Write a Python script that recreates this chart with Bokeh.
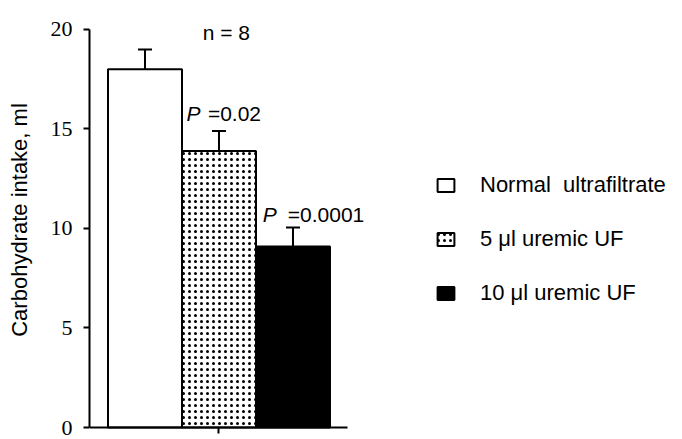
from bokeh.plotting import figure
from bokeh.models import (ColumnDataSource, Whisker, TeeHead, Legend, LegendItem,
                          Label, FixedTicker, Range1d)
from bokeh.embed import file_html
from bokeh.resources import INLINE

# ---- data ----
groups = ["Normal  ultrafiltrate", "5 \u03bcl uremic UF", "10 \u03bcl uremic UF"]
positions = [1, 2, 3]
intake = [18.0, 13.9, 9.1]
sem = [1.0, 1.0, 0.95]
y_ticks = [0, 5, 10, 15, 20]
n_text = "n = 8"
p_texts = ["=0.02", "=0.0001"]

# ---- styles ----
fills = ["white", "white", "black"]
hatches = [" ", "dot", " "]

src = ColumnDataSource(dict(
    x=positions, top=intake, upper=[v + e for v, e in zip(intake, sem)],
    fill=fills, hatch=hatches, label=groups))

p = figure(width=682, height=439, x_range=Range1d(0.25, 8.264), y_range=Range1d(-0.603, 21.457),
           output_backend="svg", toolbar_location=None,
           min_border_left=89, min_border_right=0, min_border_top=0, min_border_bottom=0)
p.grid.visible = False
p.outline_line_color = None
p.background_fill_color = "white"

bars = p.vbar(x="x", top="top", bottom=0, width=1.0, source=src,
              fill_color="fill", line_color="black", line_width=2,
              hatch_pattern="hatch", hatch_color="black", hatch_scale=6, hatch_weight=0.9)

wh = Whisker(source=src, base="x", upper="upper", lower="top",
             upper_head=TeeHead(size=14, line_width=2, line_color="black"),
             lower_head=None, line_width=2, line_color="black")
p.add_layout(wh)

# y axis
ya = p.yaxis[0]
ya.ticker = FixedTicker(ticks=y_ticks)
ya.bounds = (0, 20)
ya.axis_line_width = 2
ya.major_tick_line_width = 2
ya.major_tick_out = 6
ya.major_tick_in = 0
ya.minor_tick_line_color = None
ya.major_label_text_font = "Liberation Serif"
ya.major_label_text_font_size = "22px"
ya.major_label_text_color = "black"
ya.major_label_standoff = 11
ya.axis_label = "Carbohydrate intake, ml"
ya.axis_label_text_font = "Liberation Sans"
ya.axis_label_text_font_size = "22px"
ya.axis_label_text_font_style = "normal"
ya.axis_label_text_color = "black"
ya.axis_label_standoff = 16

# x axis (drawn at y = 0 inside the frame)
xa = p.xaxis[0]
xa.fixed_location = 0
xa.ticker = FixedTicker(ticks=[2])
xa.bounds = (0.25, 3.74)
xa.axis_line_width = 2
xa.major_tick_line_width = 2
xa.major_tick_out = 6
xa.major_tick_in = 0
xa.minor_tick_line_color = None
xa.major_label_overrides = {2: ""}
xa.major_label_standoff = 0

# annotations
def lab(x, y, t, style="normal", align="left"):
    p.add_layout(Label(x=x, y=y, text=t, text_font="Liberation Sans", text_font_size="21px",
                       text_font_style=style, text_align=align, text_baseline="alphabetic",
                       text_color="black"))

lab(2.10, 19.85, n_text, align="center")
lab(1.56, 15.78, "P", style="italic")
lab(1.85, 15.78, p_texts[0])
lab(2.59, 10.70, "P", style="italic")
lab(2.93, 10.70, p_texts[1])

legend = Legend(items=[LegendItem(label=g, renderers=[bars], index=i) for i, g in enumerate(groups)],
                location=(346, 133), orientation="vertical",
                glyph_width=21, glyph_height=16, label_standoff=24,
                label_text_font="Liberation Sans", label_text_font_size="22px",
                label_text_color="black", label_height=24, spacing=28,
                padding=0, margin=0, border_line_color=None, background_fill_alpha=0)
p.add_layout(legend)

open("out.html", "w").write(file_html(p, INLINE))
